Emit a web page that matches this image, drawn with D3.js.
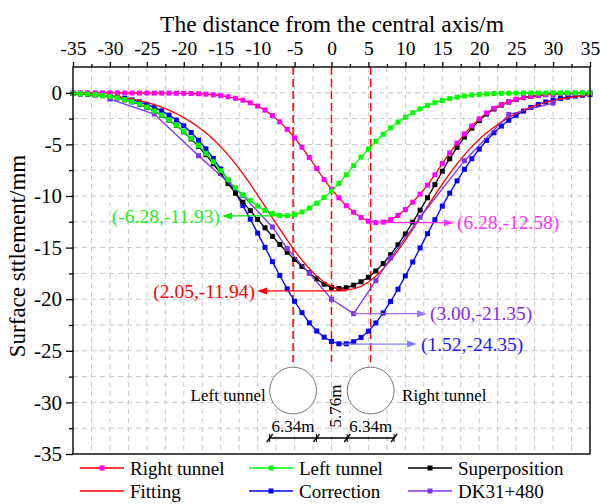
<!DOCTYPE html>
<html>
<head>
<meta charset="utf-8">
<script src="https://cdn.jsdelivr.net/npm/d3@7"></script>
<style>
  body { margin: 0; background: #fff; }
  text { font-family: "Liberation Serif", "Times New Roman", serif; }
</style>
</head>
<body>
<svg id="chart" width="601" height="504"></svg>
<script>
// distance from the central axis (m)
var distance = [-35,-34,-33,-32,-31,-30,-29,-28,-27,-26,-25,-24,-23,-22,-21,-20,-19,-18,-17,-16,-15,-14,-13,-12,-11,-10,-9,-8,-7,-6,-5,-4,-3,-2,-1,
  0,1,2,3,4,5,6,7,8,9,10,11,12,13,14,15,16,17,18,19,20,21,22,23,24,25,26,27,28,29,30,31,32,33,34,35];

// settlement (mm), one value per distance
var rightTunnel = [-0.01,-0.01,-0.01,-0.01,-0.01,-0.01,-0.01,-0.02,-0.02,-0.02,-0.02,-0.03,-0.03,-0.03,-0.04,
  -0.05,-0.07,-0.09,-0.13,-0.19,-0.27,-0.38,-0.53,-0.72,-0.97,-1.29,-1.68,-2.2,-2.82,-3.54,-4.36,-5.28,-6.27,-7.34,-8.41,
  -9.35,-10.18,-10.94,-11.58,-12.08,-12.44,-12.57,-12.53,-12.3,-11.88,-11.32,-10.6,-9.82,-8.95,-7.94,-6.86,-5.83,-4.87,-3.99,-3.21,
  -2.53,-1.95,-1.5,-1.14,-0.86,-0.63,-0.45,-0.33,-0.24,-0.17,-0.12,-0.08,-0.06,-0.05,-0.04,-0.03];

var leftTunnel = [-0.06,-0.09,-0.13,-0.19,-0.27,-0.36,-0.49,-0.66,-0.86,-1.1,-1.4,-1.76,-2.16,-2.62,-3.14,
  -3.73,-4.4,-5.11,-5.87,-6.69,-7.55,-8.42,-9.2,-9.88,-10.45,-10.98,-11.4,-11.71,-11.88,-11.91,-11.8,-11.55,-11.17,-10.7,-10.14,
  -9.52,-8.78,-7.95,-7.06,-6.23,-5.44,-4.7,-4.02,-3.39,-2.84,-2.36,-1.93,-1.55,-1.22,-0.96,-0.74,-0.56,-0.42,-0.3,-0.22,
  -0.16,-0.11,-0.07,-0.05,-0.04,-0.03,-0.02,-0.02,-0.02,-0.01,-0.01,-0.01,-0.01,-0.01,-0.01,-0.01];

var superposition = [-0.07,-0.1,-0.14,-0.2,-0.28,-0.37,-0.5,-0.68,-0.88,-1.12,-1.42,-1.79,-2.19,-2.65,-3.18,
  -3.78,-4.47,-5.2,-6.0,-6.88,-7.82,-8.8,-9.73,-10.6,-11.42,-12.27,-13.08,-13.91,-14.7,-15.45,-16.16,-16.83,-17.44,-18.04,-18.55,
  -18.87,-18.96,-18.89,-18.64,-18.31,-17.88,-17.27,-16.55,-15.69,-14.72,-13.68,-12.53,-11.37,-10.17,-8.9,-7.6,-6.39,-5.29,-4.29,-3.43,
  -2.69,-2.06,-1.57,-1.19,-0.9,-0.66,-0.47,-0.35,-0.26,-0.18,-0.13,-0.09,-0.07,-0.06,-0.05,-0.04];

var fitting = [-0.08,-0.11,-0.14,-0.18,-0.23,-0.3,-0.38,-0.48,-0.6,-0.75,-0.93,-1.14,-1.39,-1.68,-2.01,
  -2.4,-2.84,-3.33,-3.88,-4.5,-5.22,-6.02,-6.88,-7.84,-8.85,-9.91,-11.0,-12.11,-13.21,-14.28,-15.29,-16.22,-17.05,-17.77,-18.34,
  -18.76,-19.01,-19.1,-19.01,-18.76,-18.34,-17.77,-17.05,-16.22,-15.29,-14.28,-13.21,-12.11,-11.0,-9.91,-8.85,-7.84,-6.88,-6.02,-5.22,
  -4.5,-3.88,-3.33,-2.84,-2.4,-2.01,-1.68,-1.39,-1.14,-0.93,-0.75,-0.6,-0.48,-0.38,-0.3,-0.23];

var correction = [-0.07,-0.1,-0.13,-0.18,-0.24,-0.31,-0.41,-0.54,-0.69,-0.88,-1.12,-1.41,-1.75,-2.16,-2.64,
  -3.2,-3.85,-4.6,-5.43,-6.36,-7.38,-8.5,-9.67,-10.93,-12.24,-13.6,-14.98,-16.36,-17.7,-19.0,-20.2,-21.3,-22.29,-23.08,-23.68,
  -24.1,-24.32,-24.32,-24.12,-23.7,-23.1,-22.3,-21.33,-20.22,-19.03,-17.74,-16.4,-15.03,-13.65,-12.3,-10.98,-9.72,-8.53,-7.41,-6.39,
  -5.46,-4.62,-3.87,-3.22,-2.66,-2.18,-1.77,-1.42,-1.13,-0.89,-0.7,-0.55,-0.42,-0.32,-0.24,-0.18];

// measured section DK31+480
var dkDistance = [-30,-24,-18,-12,-8,-6,-3,0,3,6,8,12,18,24,30];
var dkSettlement = [-0.61,-2.06,-6.1,-9.96,-13.0,-15.1,-17.5,-20.0,-21.4,-18.2,-16.0,-12.06,-6.58,-2.1,-1.0];

var xTicks = [-35,-30,-25,-20,-15,-10,-5,0,5,10,15,20,25,30,35];
var yTicks = [0,-5,-10,-15,-20,-25,-30,-35];

var svg = d3.select('#chart');
var x = d3.scaleLinear().domain([-35, 35]).range([73, 590]);
var y = d3.scaleLinear().domain([-35, 2.5]).range([454, 67]);

// dashed grid every 2.5
var gridX = d3.range(-32.5, 35, 2.5);
var gridY = d3.range(-32.5, 2.5, 2.5);
var grid = svg.append('g').attr('stroke', '#c8c8c8').attr('stroke-width', 1).attr('stroke-dasharray', '5,4');
grid.selectAll('.gx').data(gridX).enter().append('line')
  .attr('x1', d => x(d)).attr('x2', d => x(d)).attr('y1', y(2.5)).attr('y2', y(-35));
grid.selectAll('.gy').data(gridY).enter().append('line')
  .attr('x1', x(-35)).attr('x2', x(35)).attr('y1', d => y(d)).attr('y2', d => y(d));

// tunnel centre lines
var tunnelCentres = [-5.2, 5.3];
svg.append('g').selectAll('line').data([tunnelCentres[0], 0, tunnelCentres[1]]).enter().append('line')
  .attr('x1', d => x(d)).attr('x2', d => x(d)).attr('y1', y(2.5)).attr('y2', y(-26.1))
  .attr('stroke', '#ff0000').attr('stroke-width', 1.5).attr('stroke-dasharray', '8,4');

// tunnels sketch
var tunnelR = 3.17;
svg.append('g').selectAll('circle').data(tunnelCentres).enter().append('circle')
  .attr('cx', d => x(d)).attr('cy', y(-28.85)).attr('r', x(tunnelR) - x(0))
  .attr('fill', '#fff').attr('stroke', '#777').attr('stroke-width', 1);

var dimY = 438;
var dimPts = [tunnelCentres[0] - tunnelR, tunnelCentres[0] + tunnelR, tunnelCentres[1] - tunnelR, tunnelCentres[1] + tunnelR];
var dim = svg.append('g').attr('stroke', '#000').attr('stroke-width', 1.3);
dim.append('line').attr('x1', x(dimPts[0])).attr('x2', x(dimPts[3])).attr('y1', dimY).attr('y2', dimY);
dimPts.forEach(function (p) {
  dim.append('line').attr('x1', x(p) - 3).attr('x2', x(p) + 3).attr('y1', dimY + 4).attr('y2', dimY - 4);
  dim.append('line').attr('x1', x(p)).attr('x2', x(p)).attr('y1', dimY + 4).attr('y2', dimY - 4).attr('stroke-width', 1);
});
var sketchText = svg.append('g').attr('font-size', '17px').attr('fill', '#000');
sketchText.append('text').attr('x', x(tunnelCentres[0] - tunnelR) - 4).attr('y', 401).attr('text-anchor', 'end').text('Left tunnel');
sketchText.append('text').attr('x', x(tunnelCentres[1] + tunnelR) + 8).attr('y', 401).text('Right tunnel');
sketchText.append('text').attr('x', x(tunnelCentres[0])).attr('y', 432).attr('text-anchor', 'middle').text('6.34m');
sketchText.append('text').attr('x', x(tunnelCentres[1])).attr('y', 432).attr('text-anchor', 'middle').text('6.34m');
sketchText.append('text').attr('transform', 'translate(' + (x(0) + 4) + ',406) rotate(-90)')
  .attr('text-anchor', 'middle').attr('dy', '0.35em').text('5.76m');

// series
var line = d3.line().x(d => x(d[0])).y(d => y(d[1]));
var series = [
  { name: 'Correction', xs: distance, ys: correction, stroke: '#0000ff', mark: '#0000ff' },
  { name: 'Superposition', xs: distance, ys: superposition, stroke: '#000000', mark: '#000000' },
  { name: 'Fitting', xs: distance, ys: fitting, stroke: '#ff0000', mark: null },
  { name: 'DK31+480', xs: dkDistance, ys: dkSettlement, stroke: '#8033ee', mark: '#8033ee' },
  { name: 'Right tunnel', xs: distance, ys: rightTunnel, stroke: '#ff0000', mark: '#ff00ff' },
  { name: 'Left tunnel', xs: distance, ys: leftTunnel, stroke: '#00ff00', mark: '#00ff00' }
];
var ms = 5;
series.forEach(function (s) {
  var pts = s.xs.map((v, i) => [v, s.ys[i]]);
  var g = svg.append('g');
  g.append('path').datum(pts).attr('d', line).attr('fill', 'none')
    .attr('stroke', s.stroke).attr('stroke-width', 1.3);
  if (s.mark) {
    g.selectAll('rect').data(pts).enter().append('rect')
      .attr('x', d => x(d[0]) - ms / 2).attr('y', d => y(d[1]) - ms / 2)
      .attr('width', ms).attr('height', ms).attr('fill', s.mark);
  }
});

// annotations
function arrow(x1, y1, x2, colour) {
  var dir = x2 < x1 ? -1 : 1;
  svg.append('line').attr('x1', x1).attr('y1', y1).attr('x2', x2 - dir * 8).attr('y2', y1)
    .attr('stroke', colour).attr('stroke-width', 1.3);
  svg.append('path').attr('d', 'M' + x2 + ',' + y1 + 'L' + (x2 - dir * 10) + ',' + (y1 - 3.5) + 'L' + (x2 - dir * 10) + ',' + (y1 + 3.5) + 'Z')
    .attr('fill', colour);
}
function label(tx, ty, str, colour, anchor) {
  svg.append('text').attr('x', tx).attr('y', ty).attr('dy', '0.35em').attr('text-anchor', anchor)
    .attr('font-size', '19.5px').attr('fill', colour).text(str);
}
arrow(x(-6.28), y(-11.93), 222, '#00ee00');
label(220, y(-11.93), '(-6.28,-11.93)', '#22ee22', 'end');
arrow(x(6.28), y(-12.58), 454, '#ff33ff');
label(457, y(-12.58), '(6.28,-12.58)', '#ff33ff', 'start');
arrow(x(2.05), y(-19.2), 257, '#ff0000');
label(255, y(-19.2), '(2.05,-11.94)', '#ff0000', 'end');
arrow(x(3.0), y(-21.4), 427, '#a070ff');
label(430, y(-21.4), '(3.00,-21.35)', '#8a2be2', 'start');
arrow(x(1.52), y(-24.35), 417, '#8080ff');
label(421, y(-24.35), '(1.52,-24.35)', '#1a1aff', 'start');

// axes
var topAxis = svg.append('g').attr('transform', 'translate(0,' + y(2.5) + ')')
  .call(d3.axisTop(x).tickValues(xTicks).tickSize(5).tickPadding(7).tickFormat(d3.format('d')));
svg.append('g').attr('transform', 'translate(0,' + y(2.5) + ')')
  .call(d3.axisTop(x).tickValues(gridX.filter(v => v % 5 !== 0)).tickSize(3).tickFormat(''));
var leftAxis = svg.append('g').attr('transform', 'translate(' + x(-35) + ',0)')
  .call(d3.axisLeft(y).tickValues(yTicks).tickSize(7).tickPadding(4).tickFormat(d3.format('d')));
svg.append('g').attr('transform', 'translate(' + x(-35) + ',0)')
  .call(d3.axisLeft(y).tickValues(gridY.filter(v => v % 5 !== 0)).tickSize(4).tickFormat(''));
svg.selectAll('.domain').remove();
svg.selectAll('.tick line').attr('stroke', '#000').attr('stroke-width', 1.3);
svg.selectAll('.tick text').attr('fill', '#000')
  .attr('font-family', '"Liberation Serif", "Times New Roman", serif');
topAxis.selectAll('.tick text').attr('font-size', '19.5px').text(d => d < 0 ? '-' + Math.abs(d) : d);
leftAxis.selectAll('.tick text').attr('font-size', '21px').text(d => d < 0 ? '-' + Math.abs(d) : d);

svg.append('rect').attr('x', x(-35)).attr('y', y(2.5)).attr('width', x(35) - x(-35)).attr('height', y(-35) - y(2.5))
  .attr('fill', 'none').attr('stroke', '#000').attr('stroke-width', 1.4);

svg.append('text').attr('x', 332).attr('y', 31.5).attr('text-anchor', 'middle')
  .attr('font-size', '23.5px').text('The distance from the central axis/m');
svg.append('text').attr('transform', 'translate(24.5,256) rotate(-90)').attr('text-anchor', 'middle')
  .attr('font-size', '23px').text('Surface sttlement/mm');

// legend
var legendItems = [
  { name: 'Right tunnel', stroke: '#ff0000', mark: '#ff00ff', col: 0, row: 0 },
  { name: 'Left tunnel', stroke: '#00ff00', mark: '#00ff00', col: 1, row: 0 },
  { name: 'Superposition', stroke: '#000000', mark: '#000000', col: 2, row: 0 },
  { name: 'Fitting', stroke: '#ff0000', mark: null, col: 0, row: 1 },
  { name: 'Correction', stroke: '#0000ff', mark: '#0000ff', col: 1, row: 1 },
  { name: 'DK31+480', stroke: '#8033ee', mark: '#8033ee', col: 2, row: 1 }
];
var colX = [80, 249, 408];
var rowY = [468, 491];
legendItems.forEach(function (it) {
  var lx = colX[it.col], ly = rowY[it.row];
  var g = svg.append('g');
  g.append('line').attr('x1', lx).attr('x2', lx + 44).attr('y1', ly).attr('y2', ly)
    .attr('stroke', it.stroke).attr('stroke-width', 1.5);
  if (it.mark) g.append('rect').attr('x', lx + 22 - ms / 2).attr('y', ly - ms / 2)
    .attr('width', ms).attr('height', ms).attr('fill', it.mark);
  g.append('text').attr('x', lx + 50).attr('y', ly).attr('dy', '0.35em')
    .attr('font-size', '19px').text(it.name);
});
</script>
</body>
</html>
